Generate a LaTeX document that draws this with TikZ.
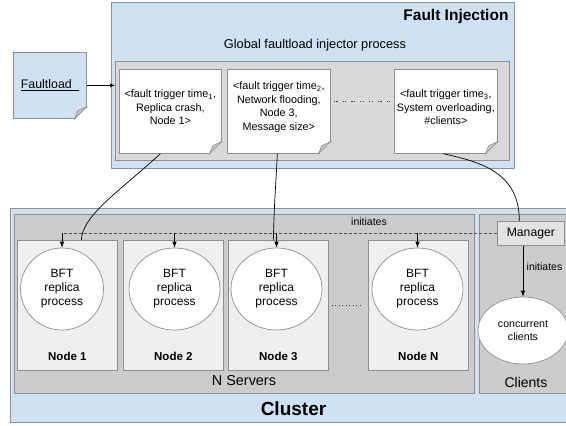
\documentclass[tikz,border=0pt]{standalone}
\usepackage{fontspec}
\setmainfont{Liberation Sans}
\usetikzlibrary{shapes.geometric, arrows.meta, positioning, calc}
\definecolor{paleblue}{HTML}{CFE2F3}
\definecolor{clustergray}{HTML}{CCCCCC}
\definecolor{injgray}{HTML}{D9D9D9}
\definecolor{hostgray}{HTML}{EFEFEF}
\definecolor{mgrgray}{HTML}{E3E3E3}
\definecolor{edgegray}{HTML}{8F8F8F}
\definecolor{foldgray}{HTML}{C8C8C8}
\tikzset{
  region/.style={draw=edgegray, line width=0.7pt, inner sep=0pt},
  blueregion/.style={region, fill=paleblue},
  grayregion/.style={region, fill=clustergray},
  injregion/.style={region, fill=injgray},
  hostbox/.style={region, fill=hostgray, minimum width=100pt, minimum height=130pt},
  docnote/.style={draw=edgegray, line width=0.7pt, fill=white, align=center, inner sep=0pt,
    minimum height=84pt, font=\fontsize{10.8}{13.5}\selectfont},
  doctext/.style={align=center, inner sep=0pt, font=\fontsize{10.8}{13.5}\selectfont},
  replica/.style={ellipse, draw=edgegray, fill=white, line width=0.7pt, align=center,
    inner sep=0pt, font=\fontsize{12}{14}\selectfont},
  hosttitle/.style={font=\bfseries\fontsize{11.5}{14}\selectfont},
  smalltext/.style={font=\fontsize{10.5}{12}\selectfont},
  link/.style={line width=0.7pt},
  feedarrow/.style={line width=0.7pt, -{Latex[length=5pt,width=4pt]}},
  initarrow/.style={line width=0.7pt, -{Latex[length=6pt,width=4.5pt]}},
  busline/.style={line width=0.7pt, draw=black!70, dash pattern=on 3pt off 2pt},
  gapdots/.style={line width=1pt, draw=black!75}
}
% folded corner of a note: node name, colour behind it
\newcommand{\foldnote}[2]{%
  \fill[#2] ([xshift=1pt,yshift=12pt]#1.south east) -- ([xshift=1pt,yshift=-1pt]#1.south east)
    -- ([xshift=-12pt,yshift=-1pt]#1.south east) -- cycle;
  \filldraw[draw=edgegray, fill=foldgray, line width=0.6pt] ([yshift=12pt]#1.south east)
    -- ([xshift=-12pt]#1.south east) -- ([xshift=-9pt,yshift=8pt]#1.south east) -- cycle;}

\begin{document}
\begin{tikzpicture}[x=1pt, y=-1pt]
\useasboundingbox (0,0) rectangle (566,426);

% Fault injection
\node[blueregion, minimum width=403.5pt, minimum height=166pt, anchor=north west] (fi) at (110.5,2) {};
\node[font=\bfseries\fontsize{15.5}{18}\selectfont, anchor=east] (fititle) at (512,16) {Fault Injection};
\node[font=\fontsize{12.8}{15}\selectfont] (injtitle) at (315,45) {Global faultload injector process};
\node[injregion, minimum width=394pt, minimum height=99pt, anchor=north west] (inj) at (115,61) {};

\node[docnote, minimum width=102pt, anchor=north west] (doc1) at (119,69) {};
\node[docnote, minimum width=103pt, anchor=north west] (doc2) at (227,69) {};
\node[docnote, minimum width=103pt, anchor=north west] (doc3) at (394,69) {};
\node[doctext] (doc1-txt) at ([yshift=4pt]doc1.center)
  {<fault trigger time\textsubscript{1},\\Replica crash,\\Node 1>};
\node[doctext] (doc2-txt) at ([yshift=4pt]doc2.center)
  {<fault trigger time\textsubscript{2},\\Network flooding,\\Node 3,\\Message size>};
\node[doctext] (doc3-txt) at ([yshift=4pt]doc3.center)
  {<fault trigger time\textsubscript{3},\\System overloading,\\\#clients>};
\foldnote{doc1}{injgray}
\foldnote{doc2}{injgray}
\foldnote{doc3}{injgray}
\draw[gapdots, dash pattern=on 1.2pt off 1.4pt on 1.2pt off 5pt]
  ([xshift=3pt,yshift=10pt]doc2.east) -- ([xshift=-1pt,yshift=10pt]doc3.west);

% Faultload
\node[docnote, fill=paleblue, minimum width=73pt, minimum height=66pt,
      font=\fontsize{12.4}{15}\selectfont, anchor=north west] (fl) at (13,52) {\underline{Faultload\hspace{7pt}}};
\foldnote{fl}{white}
\draw[feedarrow] (fl.east) -- (fl.east -| inj.west);

% Cluster
\node[blueregion, minimum width=570pt, minimum height=214pt, anchor=north west] (cluster) at (10,208) {};
\node[font=\bfseries\fontsize{19}{22}\selectfont] (clustertitle) at (293.5,409) {Cluster};
\node[grayregion, minimum width=460pt, minimum height=179pt, anchor=north west] (servers) at (14,214) {};
\node[grayregion, minimum width=100pt, minimum height=179pt, anchor=north west] (clients) at (479,214) {};
\node[font=\fontsize{14.4}{17}\selectfont] (serverstitle) at (244,381) {N Servers};
\node[font=\fontsize{14}{17}\selectfont] (clientstitle) at (526,382) {Clients};

\foreach \name/\x/\lbl in {n1/17/Node 1, n2/123/Node 2, n3/228/Node 3, nN/368/Node N} {
  \node[hostbox, anchor=north west] (\name) at (\x,240) {};
  \node[hosttitle] (\name-lbl) at ([yshift=14pt]\name.south) {\lbl};
}
\foreach \name/\x/\w in {r1/62/83, r2/174.5/91, r3/276.5/91, rN/417.5/91}
  \node[replica, minimum width=\w pt, minimum height=82pt] (\name) at (\x,289) {BFT\\replica\\process};
\draw[gapdots, dash pattern=on 1.2pt off 2.3pt] ([xshift=3pt]n3.east) -- ([xshift=-8pt]nN.west);

\node[region, fill=mgrgray, minimum width=67pt, minimum height=24pt, anchor=north west,
      font=\fontsize{12.2}{14}\selectfont] (mgr) at (497,221) {Manager};
\node[replica, minimum width=90pt, minimum height=67pt, font=\fontsize{10.6}{13}\selectfont]
  (cc) at (523,330.5) {concurrent\\clients};

% Manager starts replicas and clients
\draw[busline] (mgr.west) -- (mgr.west -| r1.north);
\node[smalltext] (initbus) at (369,222) {initiates};
\foreach \r in {r1,r2,r3,rN}
  \draw[initarrow] (mgr.west -| \r.north) -- (\r.north);
\draw[initarrow] (mgr.south -| cc.north) -- node[right, smalltext, yshift=4pt] (initcl) {initiates} (cc.north);

% faults to their targets
\draw[link] ([xshift=-10pt]doc1.south) .. controls +(-40,37) and +(1,-25) .. ([xshift=14pt]n1.north);
\draw[link] ([xshift=-1.5pt]doc2.south) .. controls +(-2,40) and +(1,-40) .. ([xshift=-5pt]n3.north);
\draw[link] ([xshift=-2.5pt]doc3.south) .. controls +(35,8) and +(0,-50) .. ([xshift=-11.5pt]mgr.north);

\end{tikzpicture}
\end{document}
